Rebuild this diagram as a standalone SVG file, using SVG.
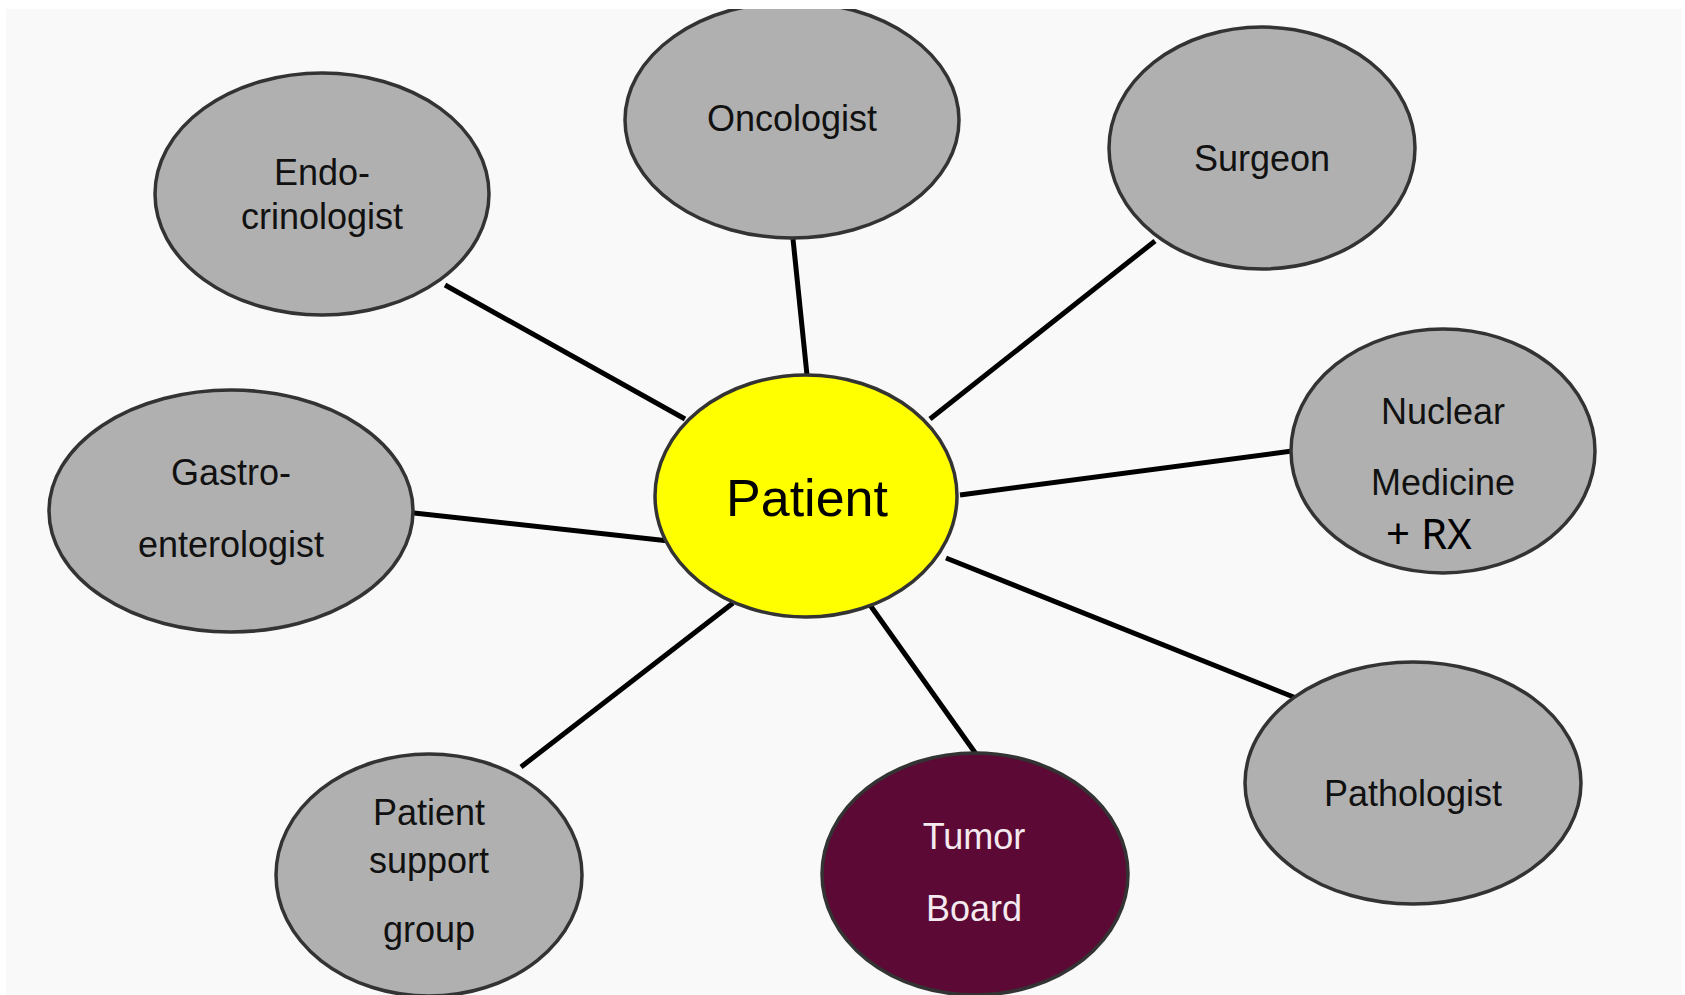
<svg xmlns="http://www.w3.org/2000/svg" width="1685" height="995" viewBox="0 0 1685 995">
<style>
.n{fill:#b0b0b0;stroke:#333;stroke-width:3.5}
.t{font-family:"Liberation Sans",Arial,sans-serif;font-size:36px;fill:#111;text-anchor:middle}
.c line{stroke:#000;stroke-width:5;stroke-linecap:butt}
</style>
<rect width="1685" height="995" fill="#ffffff"/>
<rect x="6" y="9" width="1676" height="986" fill="#f9f9f9"/>
<g class="c" id="connectors">
<line x1="445" y1="285" x2="685" y2="419"/>
<line x1="793" y1="239" x2="807" y2="375"/>
<line x1="1155" y1="241" x2="930" y2="419"/>
<line x1="1292" y1="451" x2="960" y2="495"/>
<line x1="414" y1="513" x2="669" y2="541"/>
<line x1="946" y1="558" x2="1296" y2="698"/>
<line x1="870" y1="605" x2="976" y2="754"/>
<line x1="733" y1="603" x2="521" y2="767"/>
</g>
<g id="oncologist">
<ellipse class="n" cx="792" cy="120" rx="167" ry="118"/>
<text class="t" x="792" y="131">Oncologist</text>
</g>
<rect width="1685" height="9" fill="#ffffff"/>
<g id="endocrinologist">
<ellipse class="n" cx="322" cy="194" rx="167" ry="121"/>
<text class="t" x="322" y="185">Endo-</text>
<text class="t" x="322" y="229">crinologist</text>
</g>
<g id="surgeon">
<ellipse class="n" cx="1262" cy="148" rx="153" ry="121"/>
<text class="t" x="1262" y="171">Surgeon</text>
</g>
<g id="nuclear">
<ellipse class="n" cx="1443" cy="451" rx="152" ry="122"/>
<text class="t" x="1443" y="424">Nuclear</text>
<text class="t" x="1443" y="495">Medicine</text>
<text x="1386" y="549" style="font-family:'Noto Sans',sans-serif;font-size:42px;fill:#000">+ RX</text>
</g>
<g id="gastro">
<ellipse class="n" cx="231" cy="511" rx="182" ry="121"/>
<text class="t" x="231" y="485">Gastro-</text>
<text class="t" x="231" y="557">enterologist</text>
</g>
<g id="patient">
<ellipse cx="806" cy="496" rx="151" ry="121" fill="#ffff00" stroke="#333" stroke-width="3.5"/>
<text class="t" x="807" y="516" style="font-size:52px;fill:#000">Patient</text>
</g>
<g id="support">
<ellipse class="n" cx="429" cy="875" rx="153" ry="121"/>
<text class="t" x="429" y="825">Patient</text>
<text class="t" x="429" y="873">support</text>
<text class="t" x="429" y="942">group</text>
</g>
<g id="tumor">
<ellipse cx="975" cy="874" rx="153" ry="121" fill="#5c0a35" stroke="#333" stroke-width="3.5"/>
<text class="t" x="974" y="849" style="fill:#f4eaf0">Tumor</text>
<text class="t" x="974" y="921" style="fill:#f4eaf0">Board</text>
</g>
<g id="pathologist">
<ellipse class="n" cx="1413" cy="783" rx="168" ry="121"/>
<text class="t" x="1413" y="806">Pathologist</text>
</g>
</svg>
